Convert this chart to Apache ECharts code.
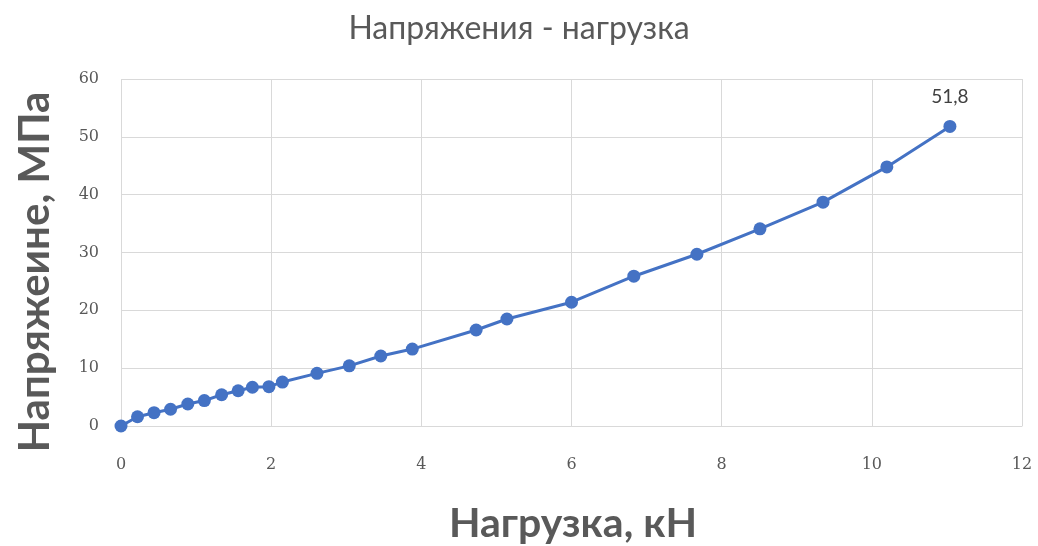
<!DOCTYPE html>
<html>
<head>
<meta charset="utf-8">
<script src="https://cdn.jsdelivr.net/npm/echarts@6/dist/echarts.min.js"></script>
<style>
  html, body { margin: 0; padding: 0; background: #ffffff; }
  #chart { width: 1038px; height: 546px; }
</style>
</head>
<body>
<div id="chart"></div>
<script>
// Load (kN) and the resulting stress (MPa)
const loadKN = [0, 0.22, 0.44, 0.66, 0.89, 1.11, 1.34, 1.56, 1.75, 1.97, 2.15, 2.61, 3.04, 3.46, 3.88, 4.73, 5.14, 6.0, 6.83, 7.67, 8.51, 9.35, 10.2, 11.04];
const stressMPa = [0, 1.6, 2.3, 2.9, 3.8, 4.4, 5.4, 6.1, 6.7, 6.8, 7.6, 9.1, 10.4, 12.1, 13.3, 16.6, 18.5, 21.4, 25.9, 29.7, 34.1, 38.7, 44.8, 51.8];

const titleText = 'Напряжения - нагрузка';
const xName = 'Нагрузка, кН';
const yName = 'Напряжеине, МПа';

const points = loadKN.map((x, i) => [x, stressMPa[i]]);
const lastIndex = points.length - 1;
const nameColor = '#595959';

const chart = echarts.init(document.getElementById('chart'));
chart.setOption({
  backgroundColor: '#ffffff',
  animation: false,
  title: {
    text: titleText,
    left: 'center',
    top: 8,
    textStyle: { fontFamily: 'Lato', fontWeight: 'normal', fontSize: 32, color: nameColor }
  },
  grid: { left: 121, right: 16, top: 79, bottom: 120 },
  graphic: [
    {
      type: 'text',
      x: 35, y: 272,
      rotation: Math.PI / 2,
      style: {
        text: yName,
        fontFamily: 'Lato', fontWeight: 'bold', fontSize: 42,
        fill: nameColor, align: 'center', verticalAlign: 'middle'
      }
    },
    {
      type: 'text',
      x: 573, y: 524,
      style: {
        text: xName,
        fontFamily: 'Lato', fontWeight: 'bold', fontSize: 41,
        fill: nameColor, align: 'center', verticalAlign: 'middle'
      }
    }
  ],
  xAxis: {
    type: 'value',
    min: 0, max: 12, interval: 2,
    axisLine: { show: true, lineStyle: { color: '#d9d9d9', width: 1 } },
    axisTick: { show: false },
    axisLabel: { fontFamily: 'DejaVu Serif', fontSize: 16, color: nameColor, margin: 31 },
    splitLine: { show: true, lineStyle: { color: '#d9d9d9', width: 1 } }
  },
  yAxis: {
    type: 'value',
    min: 0, max: 60, interval: 10,
    axisLine: { show: false },
    axisTick: { show: false },
    axisLabel: { fontFamily: 'DejaVu Serif', fontSize: 16, color: nameColor, margin: 22 },
    splitLine: { show: true, lineStyle: { color: '#d9d9d9', width: 1 } }
  },
  series: [{
    type: 'line',
    data: points,
    symbol: 'circle',
    symbolSize: 13,
    itemStyle: { color: '#4472c4' },
    lineStyle: { color: '#4472c4', width: 3 },
    label: {
      show: true,
      position: 'top',
      distance: 14,
      fontFamily: 'Lato',
      fontSize: 19,
      color: '#404040',
      formatter: p => p.dataIndex === lastIndex ? String(p.value[1]).replace('.', ',') : ''
    }
  }]
});
</script>
</body>
</html>
